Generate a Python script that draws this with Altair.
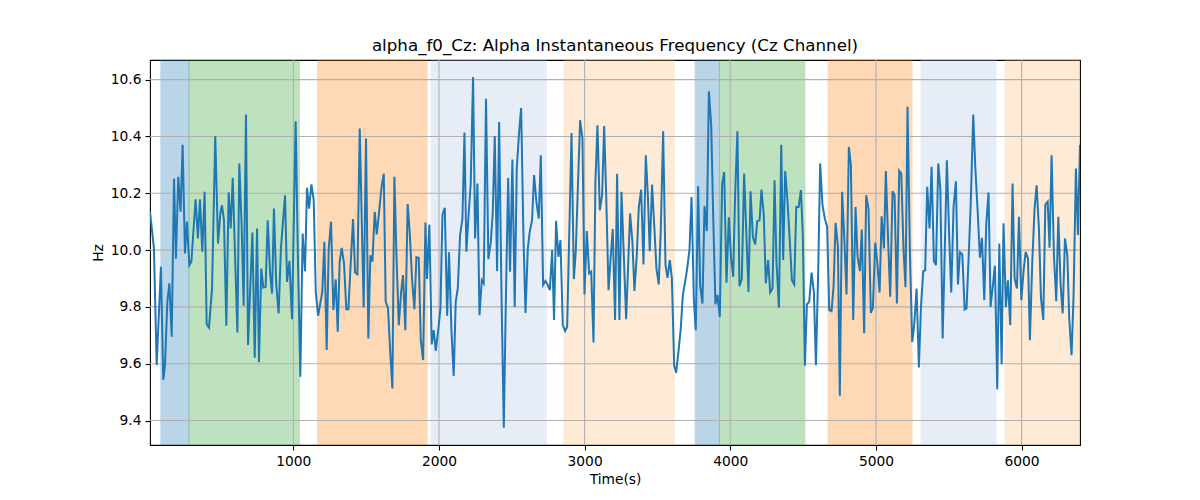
import altair as alt
import pandas as pd

# ---- data ----
time_s = [
    16, 43, 62, 91, 107, 119, 135, 149, 165, 181, 194, 210, 226, 240, 256, 270, 286, 300, 329, 345,
    359, 375, 391, 405, 421, 442, 464, 483, 499, 510, 524, 540, 556, 570, 584, 600, 616, 629, 645, 659,
    675, 689, 719, 735, 751, 764, 780, 794, 810, 824, 840, 854, 867, 883, 899, 915, 943, 957, 973, 991,
    1016, 1032, 1048, 1064,
    1080, 1094, 1108, 1124, 1140, 1154, 1170, 1199, 1213, 1229, 1243, 1259, 1275, 1291, 1305, 1318,
    1332, 1348, 1364, 1378, 1394, 1410, 1424, 1440, 1456, 1483, 1499, 1515, 1529, 1543, 1559, 1573,
    1589, 1605, 1621, 1634, 1650, 1666, 1680, 1694, 1708, 1724, 1740, 1753, 1769, 1785, 1799, 1815,
    1831, 1845, 1861, 1875, 1891, 1907, 1918, 1934, 1950, 1964, 1978, 1996, 2010, 2024, 2040, 2056,
    2069, 2085, 2101, 2115, 2129, 2145, 2161, 2175,
    2188, 2204, 2218, 2234, 2248, 2264, 2278, 2294, 2307, 2323, 2339, 2356, 2369, 2383, 2399, 2413,
    2429, 2445, 2459, 2475, 2488, 2504, 2520, 2534, 2550, 2564, 2580, 2594, 2610, 2623, 2639, 2653,
    2669, 2685, 2699, 2715, 2731, 2745, 2761, 2777, 2790, 2804, 2820, 2834, 2850, 2866, 2880, 2910,
    2926, 2939, 2955, 2969, 2985, 2999, 3015, 3031, 3045, 3061, 3074, 3088, 3104, 3120, 3134, 3148,
    3164, 3180, 3193, 3209, 3223, 3239,
    3253, 3285, 3312, 3328, 3342, 3358, 3372, 3388, 3404, 3420, 3434, 3447, 3463, 3479, 3493, 3509,
    3523, 3539, 3555, 3569, 3585, 3599, 3615, 3628, 3644, 3660, 3674, 3690, 3704, 3720, 3734, 3750,
    3763, 3779, 3793, 3809, 3823, 3839, 3853, 3869, 3882, 3898, 3912, 3928, 3944, 3958, 3974, 3990,
    4006, 4020, 4033, 4049, 4063, 4079, 4095, 4109, 4125, 4139, 4155, 4171, 4185, 4201, 4214, 4230,
    4244, 4260, 4274, 4290, 4304,
    4317, 4334, 4350, 4363, 4377, 4393, 4409, 4423, 4439, 4453, 4469, 4485, 4498, 4512, 4526, 4542,
    4558, 4574, 4588, 4604, 4617, 4633, 4649, 4665, 4679, 4695, 4709, 4723, 4739, 4752, 4768, 4784,
    4798, 4814, 4828, 4844, 4860, 4874, 4890, 4903, 4919, 4933, 4949, 4965, 4979, 4995, 5009, 5025,
    5039, 5055, 5068, 5084, 5098, 5114, 5128, 5144, 5160, 5174, 5190, 5203, 5217, 5233, 5249, 5263,
    5279, 5295, 5309, 5325, 5338, 5352, 5368,
    5382, 5398, 5412, 5428, 5442, 5458, 5474, 5487, 5503, 5517, 5533, 5549, 5563, 5577, 5593, 5609,
    5622, 5638, 5652, 5668, 5682, 5698, 5714, 5728, 5744, 5757, 5773, 5787, 5803, 5817, 5833, 5847,
    5863, 5876, 5892, 5906, 5922, 5938, 5952, 5968, 5982, 5998, 6014, 6028, 6044, 6057, 6073, 6089,
    6103, 6119, 6133, 6149, 6163, 6179, 6192, 6206, 6222, 6238, 6252, 6268, 6282, 6298, 6314, 6327,
    6343, 6357, 6373, 6387, 6401,
]

freq_hz = [
    10.135, 10.006, 9.595, 9.941, 9.543, 9.595, 9.818, 9.883, 9.695, 10.252, 9.97, 10.258, 10.135, 10.371, 9.988, 10.1,
    9.947, 9.959, 10.179, 10.041, 10.179, 9.994, 10.205, 9.738, 9.727, 9.865, 10.401, 10.023, 10.129, 10.158, 10.105, 9.734,
    10.203, 10.076, 10.254, 9.982, 9.71, 10.305, 10.088, 9.804, 10.477, 9.666, 10.062, 9.621, 10.076, 9.605, 9.935, 9.868,
    9.871, 10.105, 9.924, 9.847, 10.146, 9.877, 9.777, 10.006, 10.193, 9.888, 9.962, 9.757, 10.453, 9.959, 9.554, 10.058,
    9.926, 10.219, 10.146, 10.231, 10.176, 9.853, 9.769, 9.853, 10.029, 9.648, 10.006, 10.1, 9.789, 9.897, 9.713, 9.959,
    10.008, 9.953, 9.792, 9.792, 9.953, 10.109, 9.921, 9.915, 10.428, 9.798, 10.393, 9.689, 9.982, 9.959, 10.135, 10.055,
    10.135, 10.219, 10.269, 9.82, 9.795, 9.636, 9.513, 10.258, 9.982, 9.736, 9.851, 9.912, 9.718, 10.162, 10.064, 9.9,
    9.792, 9.975, 9.973, 9.683, 9.613, 10.097, 9.898, 10.09, 9.668, 9.718, 9.645, 9.724, 9.795, 10.125, 10.149, 9.769,
    9.992, 9.724, 9.557, 9.818, 9.865, 10.053, 10.111, 10.414,
    9.994, 10.129, 10.234, 10.609, 10.041, 10.234, 9.771, 9.894, 9.883, 10.533, 9.968, 10.029, 10.129, 10.401, 9.926, 10.451,
    9.853, 9.375, 9.818, 10.254, 9.924, 10.319, 9.8, 10.287, 10.414, 10.5, 10.047, 9.779, 10.006, 10.064, 10.105, 10.264,
    10.17, 10.111, 10.334, 9.877, 9.891, 9.879, 9.859, 10.0, 9.754, 10.103, 9.976, 10.035, 9.736, 9.715, 9.73, 10.412,
    9.898, 9.994, 10.24, 10.457, 10.393, 9.844, 10.067, 9.918, 9.924, 9.675, 10.24, 10.439, 10.14, 10.193, 10.437, 10.193,
    9.859, 9.982, 10.074, 9.754, 10.269, 9.754,
    10.205, 9.757, 10.129, 10.029, 9.856, 9.982, 10.152, 10.213, 9.949, 10.334, 10.193, 9.996, 10.231, 10.076, 9.935, 9.879,
    10.076, 10.418, 9.949, 9.902, 9.965, 9.9, 9.593, 9.568, 9.642, 9.724, 9.841, 9.888, 9.935, 10.002, 10.187, 9.824,
    9.718, 10.225, 9.877, 9.812, 10.155, 10.067, 10.559, 10.439, 10.135, 9.809, 9.842, 9.765, 10.234, 10.275, 9.885, 10.115,
    9.968, 9.906, 10.193, 10.418, 9.873, 9.898, 10.269, 10.076, 9.853, 10.207, 10.047, 10.02, 10.102, 10.105, 10.213, 10.123,
    9.883, 9.965, 9.851, 9.865, 10.246,
    9.959, 9.797, 10.371, 9.965, 10.278, 10.17, 10.029, 9.894, 9.879, 10.152, 10.152, 10.211, 10.053, 9.593, 9.809, 9.818,
    9.921, 9.851, 9.595, 9.935, 10.305, 10.158, 10.111, 10.082, 9.789, 9.785, 9.871, 10.096, 10.012, 9.487, 10.205, 10.029,
    9.844, 10.363, 10.299, 9.754, 10.152, 9.976, 9.926, 10.072, 9.707, 10.193, 10.146, 9.779, 9.797, 10.026, 9.959, 9.851,
    10.119, 10.006, 10.278, 10.029, 9.836, 10.207, 10.193, 9.812, 10.279, 10.269, 9.994, 9.869, 10.504, 9.994, 9.677, 9.738,
    9.865, 9.587, 9.8, 9.926, 9.929, 10.223, 10.076,
    10.293, 9.961, 9.947, 10.305, 10.217, 9.689, 10.029, 10.316, 10.047, 9.851, 10.152, 10.242, 9.879, 9.992, 9.985, 9.791,
    9.795, 9.994, 10.181, 10.477, 10.293, 10.14, 9.973, 10.043, 9.824, 10.088, 10.203, 9.8, 9.877, 9.945, 9.51, 10.023,
    9.598, 10.094, 9.8, 9.894, 9.736, 10.234, 9.9, 9.865, 10.117, 9.824, 9.929, 9.994, 9.97, 9.683, 9.953, 10.146,
    10.228, 10.076, 9.832, 9.754, 10.16, 10.17, 10.008, 10.334, 9.982, 9.82, 10.117, 9.877, 9.777, 10.041, 9.982, 9.759,
    9.63, 9.842, 10.287, 10.053, 10.371,
]

span_start = [91, 284, 1167, 1946, 2859, 3759, 3926, 4672, 5311, 5888]
span_end = [284, 1041, 1918, 2736, 3615, 3926, 4512, 5247, 5824, 6450]
span_state = ["s0", "s1", "s2", "s3", "s4", "s0", "s1", "s2", "s3", "s4"]

state_names = ["s0", "s1", "s2", "s3", "s4"]
state_colors = ["#1f77b4", "#2ca02c", "#ff7f0e", "#aec7e8", "#ffbb78"]

x_ticks = [1000, 2000, 3000, 4000, 5000, 6000]
y_ticks = [9.4, 9.6, 9.8, 10.0, 10.2, 10.4, 10.6]

# ---- chart ----
line_df = pd.DataFrame({"t": time_s, "hz": freq_hz})
span_df = pd.DataFrame({"start": span_start, "end": span_end, "state": span_state})
xg_df = pd.DataFrame({"xv": x_ticks})
yg_df = pd.DataFrame({"yv": y_ticks})

xs = alt.Scale(domain=[16, 6401], nice=False, zero=False)
ys = alt.Scale(domain=[9.314, 10.669], nice=False, zero=False)
x_axis = alt.Axis(values=x_ticks, format="d", title="Time(s)", grid=False)
y_axis = alt.Axis(values=y_ticks, format=".1f", title="Hz", grid=False)
cs = alt.Scale(domain=state_names, range=state_colors)

spans = alt.Chart(span_df).mark_rect(opacity=0.3, strokeWidth=1.2, clip=True).encode(
    x=alt.X("start:Q", scale=xs, axis=x_axis),
    x2="end:Q",
    color=alt.Color("state:N", scale=cs, legend=None),
    stroke=alt.Stroke("state:N", scale=cs, legend=None),
)

vgrid = alt.Chart(xg_df).mark_rule(color="#b0b0b0", strokeWidth=1.1).encode(
    x=alt.X("xv:Q", scale=xs, axis=x_axis)
)
hgrid = alt.Chart(yg_df).mark_rule(color="#b0b0b0", strokeWidth=1.1).encode(
    y=alt.Y("yv:Q", scale=ys, axis=y_axis)
)

line = alt.Chart(line_df).mark_line(color="#1f77b4", strokeWidth=2.0, clip=True).encode(
    x=alt.X("t:Q", scale=xs, axis=x_axis),
    y=alt.Y("hz:Q", scale=ys, axis=y_axis),
)

chart = (
    alt.layer(spans, vgrid, hgrid, line)
    .properties(
        width=930,
        height=385,
        autosize=alt.AutoSizeParams(type="none"),
        padding={"left": 142, "top": 52, "right": 112, "bottom": 48},
        title=alt.TitleParams(
            "alpha_f0_Cz: Alpha Instantaneous Frequency (Cz Channel)",
            anchor="middle",
            font="DejaVu Sans",
            fontSize=16.7,
            fontWeight="normal",
            color="black",
            baseline="alphabetic",
            offset=-8,
        ),
    )
    .configure_view(stroke="black", strokeWidth=1.1)
    .configure_axis(
        domain=False,
        ticks=True,
        tickColor="black",
        tickSize=5,
        tickWidth=1.1,
        labelFont="DejaVu Sans",
        labelFontSize=13.8,
        labelColor="black",
        labelPadding=4,
        titleFont="DejaVu Sans",
        titleFontSize=13.8,
        titleFontWeight="normal",
        titleColor="black",
        titlePadding=5,
    )
)

chart.save("out.html", embed_options={"renderer": "svg", "actions": False})
